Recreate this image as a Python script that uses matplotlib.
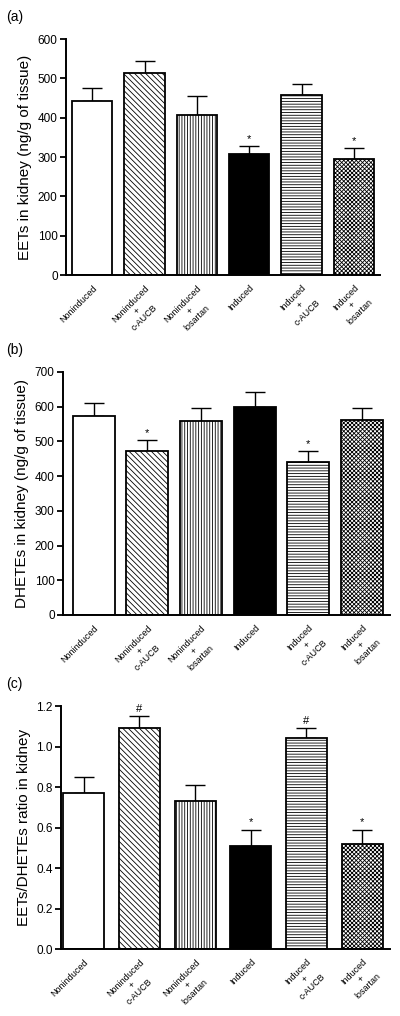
import matplotlib
matplotlib.use("Agg")
import matplotlib.pyplot as plt

groups = ["Noninduced", "Noninduced\n+\nc-AUCB", "Noninduced\n+\nlosartan",
          "Induced", "Induced\n+\nc-AUCB", "Induced\n+\nlosartan"]

eets = [442, 514, 408, 307, 458, 294]
eets_err = [33, 31, 47, 21, 27, 29]
eets_marks = ["", "", "", "*", "", "*"]

dhetes = [573, 471, 558, 600, 442, 562]
dhetes_err = [38, 33, 38, 41, 31, 33]
dhetes_marks = ["", "*", "", "", "*", ""]

ratio = [0.77, 1.09, 0.73, 0.51, 1.04, 0.52]
ratio_err = [0.08, 0.06, 0.08, 0.08, 0.05, 0.07]
ratio_marks = ["", "#", "", "*", "#", "*"]

fills = ["white", "white", "white", "black", "white", "white"]
hatches = [None, "\\\\\\\\\\\\", "||||||", None, "------", "xxxxxxxx"]

plt.rcParams["font.family"] = ["Liberation Sans", "DejaVu Sans"]
plt.rcParams["hatch.linewidth"] = 0.6

fig = plt.figure(figsize=(4, 10.16), dpi=100)


def panel(rect, vals, errs, marks, ylim, ticks, tickfmt, ylabel, tag, xlim, width, off):
    ax = fig.add_axes(rect)
    x = list(range(len(vals)))
    ax.bar(x, vals, width=width, color=fills, edgecolor="black", linewidth=1.3,
           hatch=hatches, zorder=2)
    ax.errorbar(x, vals, yerr=[[0] * len(errs), errs], fmt="none", ecolor="black",
                elinewidth=1.0, capsize=7, capthick=1.0, zorder=1)
    for xi, v, e, m in zip(x, vals, errs, marks):
        if m:
            ax.text(xi, v + e + off, m, ha="center", va="bottom", fontsize=8)
    ax.set_xlim(*xlim)
    ax.set_ylim(*ylim)
    ax.set_yticks(ticks)
    ax.set_yticklabels([tickfmt.format(t) for t in ticks], fontsize=8.5)
    ax.set_xticks(x)
    ax.set_xticklabels(groups, rotation=45, ha="right", va="top",
                       rotation_mode="anchor", fontsize=6.5,
                       multialignment="center", linespacing=1.15)
    ax.tick_params(axis="x", length=0, pad=6)
    ax.tick_params(axis="y", length=4, width=1.3, direction="out", pad=2)
    for s in ["top", "right"]:
        ax.spines[s].set_visible(False)
    for s in ["left", "bottom"]:
        ax.spines[s].set_linewidth(1.4)
    ax.set_ylabel(ylabel, fontsize=11, labelpad=4)
    fig.text(0.015, rect[1] + rect[3] + 0.022, tag, fontsize=10, ha="left", va="center")
    return ax


panel([0.165, 0.7293, 0.785, 0.2323], eets, eets_err, eets_marks, (0, 600),
      [0, 100, 200, 300, 400, 500, 600], "{:d}", "EETs in kidney (ng/g of tissue)",
      "(a)", (-0.5, 5.5), 0.77, 4)
panel([0.1575, 0.3947, 0.8175, 0.2392], dhetes, dhetes_err, dhetes_marks, (0, 700),
      [0, 100, 200, 300, 400, 500, 600, 700], "{:d}", "DHETEs in kidney (ng/g of tissue)",
      "(b)", (-0.57, 5.52), 0.78, 5)
panel([0.1525, 0.0659, 0.8225, 0.2392], ratio, ratio_err, ratio_marks, (0, 1.2),
      [0, 0.2, 0.4, 0.6, 0.8, 1.0, 1.2], "{:.1f}", "EETs/DHETEs ratio in kidney",
      "(c)", (-0.41, 5.5), 0.74, 0.01)

fig.savefig("out.png", dpi=100)
